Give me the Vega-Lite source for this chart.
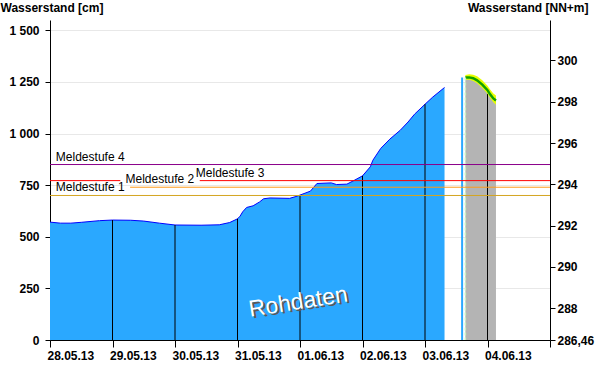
{
  "$schema": "https://vega.github.io/schema/vega-lite/v6.json",
  "width": 500,
  "height": 320,
  "autosize": {"type": "none"},
  "padding": {"left": 50, "top": 20, "right": 50, "bottom": 44},
  "background": "white",
  "config": {
    "view": {"stroke": null},
    "font": "Liberation Sans",
    "locale": {"number": {"decimal": ",", "thousands": " ", "grouping": [3], "currency": ["", " €"]}},
    "axis": {
      "labelFont": "Liberation Sans",
      "titleFont": "Liberation Sans",
      "labelColor": "black",
      "titleColor": "black",
      "domainColor": "black",
      "tickColor": "black",
      "labelFontSize": 12,
      "labelFontWeight": "bold",
      "titleFontSize": 12,
      "titleFontWeight": "bold"
    }
  },
  "datasets": {
    "mess": [
      {"t": "2013-05-28T00:00:00Z", "v": 571},
      {"t": "2013-05-28T04:00:00Z", "v": 566},
      {"t": "2013-05-28T08:00:00Z", "v": 566},
      {"t": "2013-05-28T12:00:00Z", "v": 570},
      {"t": "2013-05-28T19:00:00Z", "v": 578},
      {"t": "2013-05-29T00:00:00Z", "v": 581},
      {"t": "2013-05-29T07:00:00Z", "v": 580},
      {"t": "2013-05-29T12:00:00Z", "v": 576},
      {"t": "2013-05-29T18:00:00Z", "v": 566},
      {"t": "2013-05-30T00:00:00Z", "v": 557},
      {"t": "2013-05-30T10:00:00Z", "v": 556},
      {"t": "2013-05-30T17:00:00Z", "v": 558},
      {"t": "2013-05-30T21:00:00Z", "v": 569},
      {"t": "2013-05-31T00:00:00Z", "v": 587},
      {"t": "2013-05-31T01:00:00Z", "v": 600},
      {"t": "2013-05-31T02:00:00Z", "v": 621},
      {"t": "2013-05-31T03:30:00Z", "v": 642},
      {"t": "2013-05-31T06:00:00Z", "v": 650},
      {"t": "2013-05-31T08:30:00Z", "v": 669},
      {"t": "2013-05-31T10:00:00Z", "v": 684},
      {"t": "2013-05-31T12:30:00Z", "v": 688},
      {"t": "2013-05-31T20:00:00Z", "v": 686},
      {"t": "2013-05-31T23:00:00Z", "v": 697},
      {"t": "2013-06-01T00:00:00Z", "v": 702},
      {"t": "2013-06-01T04:00:00Z", "v": 721},
      {"t": "2013-06-01T06:30:00Z", "v": 758},
      {"t": "2013-06-01T12:00:00Z", "v": 761},
      {"t": "2013-06-01T14:00:00Z", "v": 753},
      {"t": "2013-06-01T18:00:00Z", "v": 755},
      {"t": "2013-06-01T20:30:00Z", "v": 771},
      {"t": "2013-06-02T00:00:00Z", "v": 795},
      {"t": "2013-06-02T03:00:00Z", "v": 839},
      {"t": "2013-06-02T04:00:00Z", "v": 871},
      {"t": "2013-06-02T07:00:00Z", "v": 928},
      {"t": "2013-06-02T10:30:00Z", "v": 973},
      {"t": "2013-06-02T14:30:00Z", "v": 1016},
      {"t": "2013-06-02T17:30:00Z", "v": 1056},
      {"t": "2013-06-02T20:00:00Z", "v": 1094},
      {"t": "2013-06-03T00:00:00Z", "v": 1142},
      {"t": "2013-06-03T03:00:00Z", "v": 1177},
      {"t": "2013-06-03T07:30:00Z", "v": 1223}
    ],
    "vorhersage": [
      {"t": "2013-06-03T15:30:00Z", "v": 1271, "lo": 1261, "hi": 1284},
      {"t": "2013-06-03T17:00:00Z", "v": 1272, "lo": 1261, "hi": 1287},
      {"t": "2013-06-03T18:30:00Z", "v": 1268, "lo": 1255, "hi": 1285},
      {"t": "2013-06-03T20:00:00Z", "v": 1258, "lo": 1244, "hi": 1277},
      {"t": "2013-06-03T22:00:00Z", "v": 1237, "lo": 1221, "hi": 1258},
      {"t": "2013-06-04T00:00:00Z", "v": 1210, "lo": 1193, "hi": 1232},
      {"t": "2013-06-04T01:00:00Z", "v": 1190, "lo": 1172, "hi": 1213},
      {"t": "2013-06-04T02:15:00Z", "v": 1170, "lo": 1151, "hi": 1194},
      {"t": "2013-06-04T03:15:00Z", "v": 1160, "lo": 1140, "hi": 1184}
    ],
    "tage": [
      {"t": "2013-05-29T00:00:00Z", "v": 581},
      {"t": "2013-05-30T00:00:00Z", "v": 557},
      {"t": "2013-05-31T00:00:00Z", "v": 587},
      {"t": "2013-06-01T00:00:00Z", "v": 702},
      {"t": "2013-06-02T00:00:00Z", "v": 795},
      {"t": "2013-06-03T00:00:00Z", "v": 1142},
      {"t": "2013-06-04T00:00:00Z", "v": 1193}
    ],
    "letzter": [
      {"t": "2013-06-03T14:15:00Z", "v": 1271}
    ],
    "beginn": [
      {"t": "2013-06-03T15:30:00Z", "v": 1271}
    ],
    "stufen": [
      {"stufe": "Meldestufe 4", "t1": "2013-05-28T00:00:00Z", "t2": "2013-06-05T00:00:00Z", "v": 850},
      {"stufe": "Meldestufe 3", "t1": "2013-05-28T00:00:00Z", "t2": "2013-05-29T03:00:00Z", "v": 772},
      {"stufe": "Meldestufe 3", "t1": "2013-05-30T09:30:00Z", "t2": "2013-06-05T00:00:00Z", "v": 772},
      {"stufe": "Meldestufe 2", "t1": "2013-05-29T06:45:00Z", "t2": "2013-06-05T00:00:00Z", "v": 740},
      {"stufe": "Meldestufe 1", "t1": "2013-05-28T00:00:00Z", "t2": "2013-06-05T00:00:00Z", "v": 700}
    ],
    "stufentext": [
      {"stufe": "Meldestufe 4", "t": "2013-05-28T02:15:00Z", "v": 850},
      {"stufe": "Meldestufe 3", "t": "2013-05-30T08:00:00Z", "v": 772},
      {"stufe": "Meldestufe 2", "t": "2013-05-29T05:00:00Z", "v": 740},
      {"stufe": "Meldestufe 1", "t": "2013-05-28T02:15:00Z", "v": 700}
    ],
    "hinweis": [
      {"label": "Rohdaten", "t": "2013-05-31T23:20:00Z", "v": 184}
    ],
    "rechts": [
      {"m": 286.46},
      {"m": 301.96}
    ]
  },
  "resolve": {"scale": {"y": "independent"}, "axis": {"y": "independent"}},
  "layer": [
    {
      "layer": [
        {
          "data": {"name": "mess"},
          "mark": {"type": "area", "color": "#2aa8ff", "opacity": 1, "line": {"color": "#0000ff", "strokeWidth": 1}},
          "encoding": {
            "x": {
              "field": "t", "type": "temporal", "title": null,
              "scale": {"type": "utc", "domain": [1369699200000, 1370390400000], "nice": false},
              "axis": {
                "values": [1369699200000, 1369720800000, 1369742400000, 1369764000000, 1369785600000, 1369807200000, 1369828800000, 1369850400000, 1369872000000, 1369893600000, 1369915200000, 1369936800000, 1369958400000, 1369980000000, 1370001600000, 1370023200000, 1370044800000, 1370066400000, 1370088000000, 1370109600000, 1370131200000, 1370152800000, 1370174400000, 1370196000000, 1370217600000, 1370239200000, 1370260800000, 1370282400000, 1370304000000, 1370325600000, 1370347200000, 1370368800000, 1370390400000],
                "labelExpr": "datum.value < 1370390000000 && utchours(datum.value) == 0 ? utcFormat(datum.value, '%d.%m.%y') : ''",
                "labelOverlap": false,
                "labelFlush": false,
                "labelAlign": "left",
                "labelBaseline": "top",
                "labelOffset": -3,
                "labelPadding": 3,
                "labelFontWeight": "bold",
                "labelFontSize": 12,
                "tickSize": {"condition": {"test": "utchours(datum.value) % 12 == 0", "value": 7}, "value": 4},
                "grid": false
              }
            },
            "y": {
              "field": "v", "type": "quantitative", "title": "Wasserstand [cm]",
              "scale": {"domain": [0, 1550], "nice": false, "zero": true},
              "axis": {
                "values": [0, 250, 500, 750, 1000, 1250, 1500],
                "format": ",d",
                "tickSize": 5,
                "labelPadding": 6,
                "labelFontWeight": "bold",
                "labelFontSize": 12,
                "grid": true,
                "gridColor": "#e8e8e8",
                "titleAngle": 0,
                "titleAlign": "left",
                "titleBaseline": "alphabetic",
                "titleX": -50,
                "titleY": -9
              }
            }
          }
        },
        {
          "data": {"name": "vorhersage"},
          "mark": {"type": "area", "color": "#b4b4b4", "opacity": 1},
          "encoding": {
            "x": {"field": "t", "type": "temporal", "title": null},
            "y": {"field": "v", "type": "quantitative", "title": "Wasserstand [cm]"}
          }
        },
        {
          "data": {"name": "tage"},
          "mark": {"type": "rule", "color": "black", "strokeWidth": 1},
          "encoding": {
            "x": {"field": "t", "type": "temporal", "title": null},
            "y": {"field": "v", "type": "quantitative", "title": "Wasserstand [cm]"},
            "y2": {"datum": 0}
          }
        },
        {
          "data": {"name": "vorhersage"},
          "mark": {"type": "area", "color": "#e6ff00", "opacity": 1},
          "encoding": {
            "x": {"field": "t", "type": "temporal", "title": null},
            "y": {"field": "hi", "type": "quantitative", "title": "Wasserstand [cm]"},
            "y2": {"field": "lo"}
          }
        },
        {
          "data": {"name": "vorhersage"},
          "mark": {"type": "line", "color": "#10a000", "strokeWidth": 2.5},
          "encoding": {
            "x": {"field": "t", "type": "temporal", "title": null},
            "y": {"field": "v", "type": "quantitative", "title": "Wasserstand [cm]"}
          }
        },
        {
          "data": {"name": "letzter"},
          "mark": {"type": "rule", "color": "#2aa8ff", "strokeWidth": 2},
          "encoding": {
            "x": {"field": "t", "type": "temporal", "title": null},
            "y": {"field": "v", "type": "quantitative", "title": "Wasserstand [cm]"},
            "y2": {"datum": 0}
          }
        },
        {
          "data": {"name": "beginn"},
          "mark": {"type": "rule", "color": "#c8f5c0", "strokeWidth": 1.5, "strokeDash": [3, 2]},
          "encoding": {
            "x": {"field": "t", "type": "temporal", "title": null},
            "y": {"field": "v", "type": "quantitative", "title": "Wasserstand [cm]"},
            "y2": {"datum": 0}
          }
        },
        {
          "data": {"name": "stufen"},
          "mark": {"type": "rule", "strokeWidth": 1},
          "encoding": {
            "x": {"field": "t1", "type": "temporal", "title": null},
            "x2": {"field": "t2"},
            "y": {"field": "v", "type": "quantitative", "title": "Wasserstand [cm]"},
            "color": {"field": "stufe", "type": "nominal", "scale": {"domain": ["Meldestufe 1", "Meldestufe 2", "Meldestufe 3", "Meldestufe 4"], "range": ["#d4a520", "#ff9a1a", "#ff0000", "#8b008b"]}, "legend": null}
          }
        },
        {
          "data": {"name": "stufentext"},
          "mark": {"type": "text", "align": "left", "baseline": "alphabetic", "dy": -4, "fontSize": 12, "font": "Liberation Sans", "color": "black"},
          "encoding": {
            "x": {"field": "t", "type": "temporal", "title": null},
            "y": {"field": "v", "type": "quantitative", "title": "Wasserstand [cm]"},
            "text": {"field": "stufe"}
          }
        },
        {
          "data": {"name": "hinweis"},
          "mark": {"type": "text", "align": "center", "baseline": "middle", "angle": -9, "fontSize": 23, "font": "Liberation Sans", "color": "#5a5a5a", "dx": 2, "dy": 2},
          "encoding": {
            "x": {"field": "t", "type": "temporal", "title": null},
            "y": {"field": "v", "type": "quantitative", "title": "Wasserstand [cm]"},
            "text": {"field": "label"}
          }
        },
        {
          "data": {"name": "hinweis"},
          "mark": {"type": "text", "align": "center", "baseline": "middle", "angle": -9, "fontSize": 23, "font": "Liberation Sans", "color": "white"},
          "encoding": {
            "x": {"field": "t", "type": "temporal", "title": null},
            "y": {"field": "v", "type": "quantitative", "title": "Wasserstand [cm]"},
            "text": {"field": "label"}
          }
        }
      ]
    },
    {
      "data": {"name": "rechts"},
      "mark": {"type": "rule", "opacity": 0},
      "encoding": {
        "y": {
          "field": "m", "type": "quantitative", "title": "Wasserstand [NN+m]",
          "scale": {"domain": [286.46, 301.96], "nice": false, "zero": false},
          "axis": {
            "orient": "right",
            "values": [286.46, 288, 290, 292, 294, 296, 298, 300],
            "format": ".5~r",
            "tickSize": 5,
            "labelPadding": 2,
            "labelFontWeight": "bold",
            "labelFontSize": 12,
            "grid": false,
            "titleAngle": 0,
            "titleAlign": "right",
            "titleBaseline": "alphabetic",
            "titleX": 38,
            "titleY": -9
          }
        }
      }
    }
  ]
}
